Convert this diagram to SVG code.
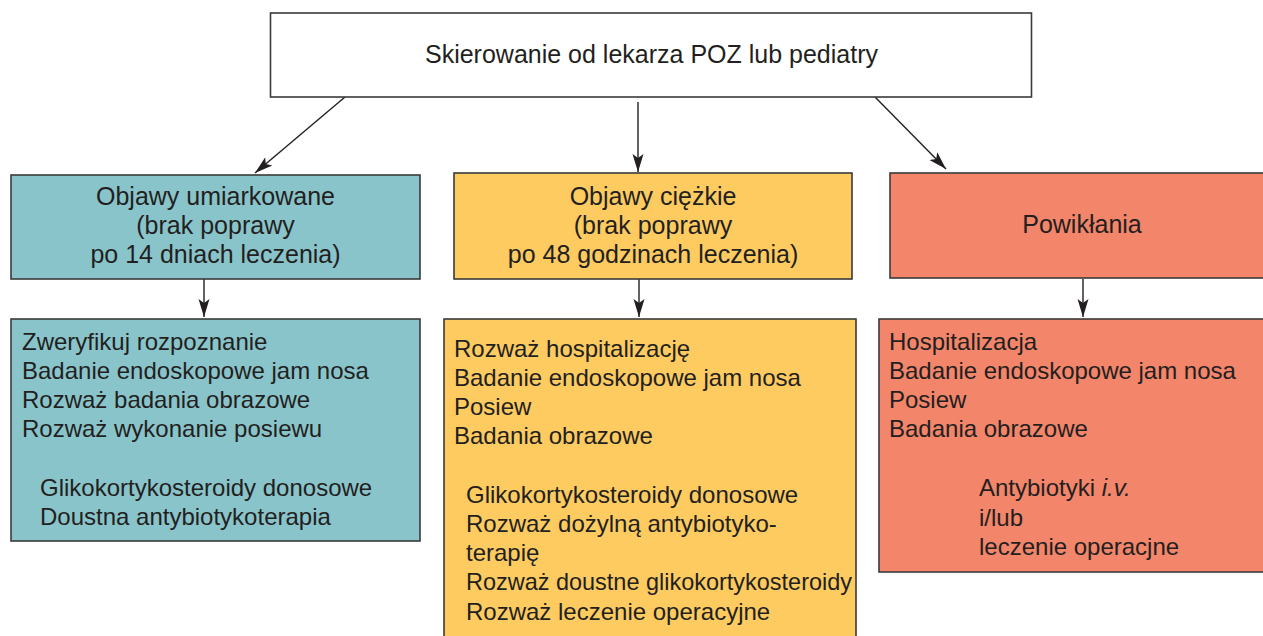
<svg xmlns="http://www.w3.org/2000/svg" width="1263" height="636" viewBox="0 0 1263 636">
<style>
.box{stroke:#3a3a3a;stroke-width:1.6}
.t{font-family:"Liberation Sans",Arial,Helvetica,sans-serif;fill:#231f20}
.h{font-size:25px;text-anchor:middle}
.b{font-size:24px}
.conn{stroke:#231f20;stroke-width:1.4;fill:none;marker-end:url(#ah)}
</style>
<defs>
<marker id="ah" markerUnits="userSpaceOnUse" markerWidth="20" markerHeight="14" refX="18" refY="6" orient="auto" viewBox="0 0 20 12">
<path d="M18,6 L0,0.5 L4,6 L0,11.5 Z" fill="#231f20"/>
</marker>
</defs>
<rect width="1263" height="636" fill="#fff"/>
<g id="connectors">
<line class="conn" x1="345" y1="97" x2="255" y2="173"/>
<line class="conn" x1="638" y1="102" x2="638" y2="172"/>
<line class="conn" x1="875" y1="97" x2="946" y2="169"/>
<line class="conn" x1="204" y1="279" x2="204" y2="317"/>
<line class="conn" x1="639" y1="279" x2="639" y2="317"/>
<line class="conn" x1="1083" y1="279" x2="1083" y2="317"/>
</g>
<g id="start">
<rect class="box" x="270.5" y="13" width="761" height="84" fill="#fff"/>
<text class="t h" x="651.5" y="63">Skierowanie od lekarza POZ lub pediatry</text>
</g>
<g id="moderate">
<rect class="box" x="11" y="175" width="409" height="104" fill="#89c4cb"/>
<text class="t h"><tspan x="215.5" y="205">Objawy umiarkowane</tspan><tspan x="215.5" y="234">(brak poprawy</tspan><tspan x="215.5" y="263">po 14 dniach leczenia)</tspan></text>
</g>
<g id="severe">
<rect class="box" x="454" y="173" width="398" height="106" fill="#fdcb60"/>
<text class="t h"><tspan x="653" y="205">Objawy ciężkie</tspan><tspan x="653" y="234">(brak poprawy</tspan><tspan x="653" y="263">po 48 godzinach leczenia)</tspan></text>
</g>
<g id="complications">
<rect class="box" x="890" y="173" width="390" height="105" fill="#f3856a"/>
<text class="t h" x="1082" y="233">Powikłania</text>
</g>
<g id="moderate-actions">
<rect class="box" x="11" y="319" width="409" height="222" fill="#89c4cb"/>
<text class="t b"><tspan x="22" y="350">Zweryfikuj rozpoznanie</tspan><tspan x="22" y="379">Badanie endoskopowe jam nosa</tspan><tspan x="22" y="408">Rozważ badania obrazowe</tspan><tspan x="22" y="437">Rozważ wykonanie posiewu</tspan><tspan x="40" y="496">Glikokortykosteroidy donosowe</tspan><tspan x="40" y="525">Doustna antybiotykoterapia</tspan></text>
</g>
<g id="severe-actions">
<rect class="box" x="444" y="319" width="412" height="330" fill="#fdcb60"/>
<text class="t b"><tspan x="454" y="357">Rozważ hospitalizację</tspan><tspan x="454" y="386">Badanie endoskopowe jam nosa</tspan><tspan x="454" y="415">Posiew</tspan><tspan x="454" y="444">Badania obrazowe</tspan><tspan x="466" y="503">Glikokortykosteroidy donosowe</tspan><tspan x="466" y="532">Rozważ dożylną antybiotyko-</tspan><tspan x="466" y="561">terapię</tspan></text>
<text class="t b" x="466" y="590" textLength="386" lengthAdjust="spacingAndGlyphs">Rozważ doustne glikokortykosteroidy</text>
<text class="t b" x="466" y="620">Rozważ leczenie operacyjne</text>
</g>
<g id="complications-actions">
<rect class="box" x="879" y="319" width="400" height="253" fill="#f3856a"/>
<text class="t b"><tspan x="889" y="350">Hospitalizacja</tspan><tspan x="889" y="379">Badanie endoskopowe jam nosa</tspan><tspan x="889" y="408">Posiew</tspan><tspan x="889" y="437">Badania obrazowe</tspan><tspan x="979" y="496">Antybiotyki <tspan font-style="italic">i.v.</tspan></tspan><tspan x="979" y="526">i/lub</tspan><tspan x="979" y="555">leczenie operacjne</tspan></text>
</g>
</svg>
